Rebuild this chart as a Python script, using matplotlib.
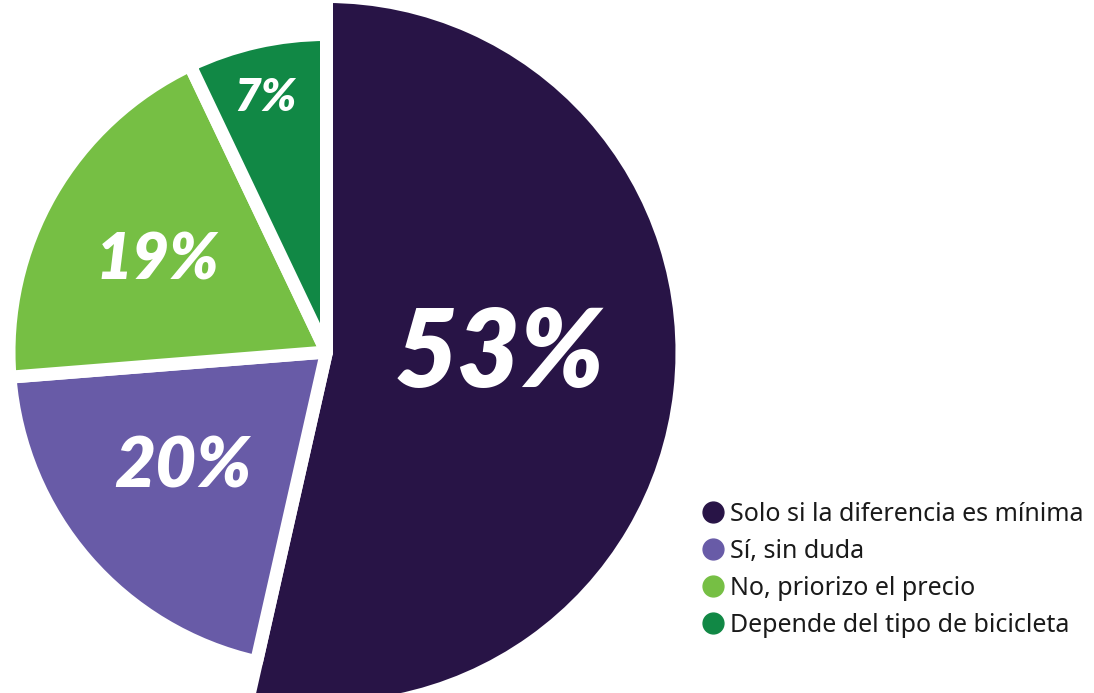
import matplotlib.pyplot as plt
from matplotlib.lines import Line2D

labels = ['Solo si la diferencia es mínima', 'Sí, sin duda',
          'No, priorizo el precio', 'Depende del tipo de bicicleta']
values = [53, 20, 19, 7]
pct_text = ['53%', '20%', '19%', '7%']
colors = ['#281446', '#685ba7', '#76bf44', '#118845']

W, H = 1094, 693
fig = plt.figure(figsize=(W / 100, H / 100), dpi=100)
ax = fig.add_axes([0, 0, 1, 1])

cx, cy = 326.5, H - 352
lw_px = 13
r_small = 311 + lw_px / 2
r_big = 349 + lw_px / 2

wedges, _ = ax.pie(values, colors=colors, startangle=90, counterclock=False,
                   center=(cx, cy), radius=r_small,
                   wedgeprops=dict(edgecolor='white', linewidth=lw_px * 0.72,
                                   joinstyle='round'))
wedges[0].set_radius(r_big)

# label positions (pixel coords, top-down) and sizes
lab_pos = [(500, 355), (183, 467), (157, 260), (265, 98)]
lab_size = [78, 51, 46, 33]
for t, (x, y), s in zip(pct_text, lab_pos, lab_size):
    ax.text(x, H - y, t, color='white', fontsize=s, family='Lato',
            weight='heavy', style='italic', ha='center', va='center')

ax.set_xlim(0, W)
ax.set_ylim(0, H)
ax.set_aspect('equal')
ax.axis('off')

handles = [Line2D([], [], marker='o', linestyle='none', markersize=15,
                  markerfacecolor=c, markeredgecolor=c) for c in colors]
fig.legend(handles, labels, loc='upper left', bbox_to_anchor=(698 / W, 1 - 502 / H),
           frameon=False, handletextpad=0.1, labelspacing=0.48, handlelength=1.2,
           prop=dict(family='Noto Sans', size=18), labelcolor='#1a1a1a',
           borderaxespad=0, borderpad=0)

fig.savefig('out.png', dpi=100)
